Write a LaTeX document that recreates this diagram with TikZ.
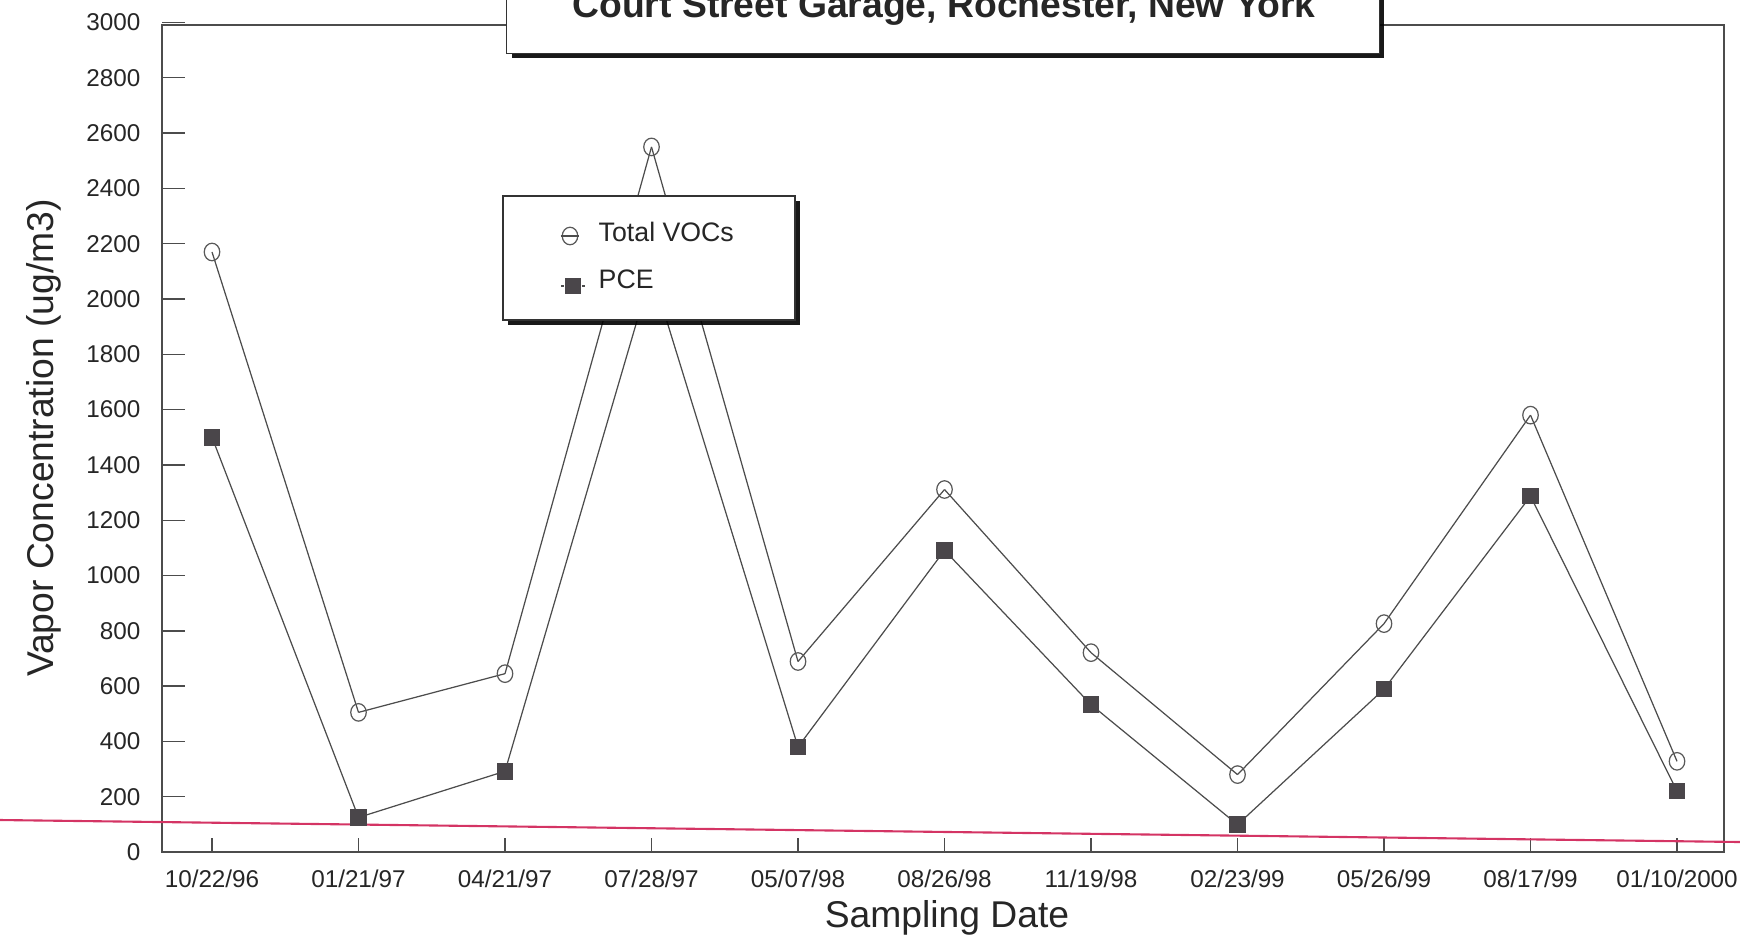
\documentclass[tikz,border=0pt]{standalone}
\usepackage{fontspec}
\setmainfont{Liberation Sans}
\usepackage{tikz}
\usetikzlibrary{positioning}
\usetikzlibrary{shapes.geometric}
\usetikzlibrary{shadows}
\definecolor{pcegray}{RGB}{74,70,74}
\definecolor{limitred}{RGB}{212,52,100}
\tikzstyle{voc} = [ellipse, draw=black!65, line width=0.35pt, inner sep=0pt,
    minimum width=0.155cm, minimum height=0.175cm]
\tikzstyle{pce} = [rectangle, fill=pcegray, inner sep=0pt, minimum size=0.165cm]
\tikzstyle{line} = [draw, black!70, line width=0.35pt]
\tikzstyle{frame} = [draw, black!70, line width=0.4pt]
\tikzstyle{panel} = [rectangle, draw=black!80, fill=white, line width=0.4pt,
    drop shadow={shadow xshift=0.05cm, shadow yshift=-0.05cm, fill=black, opacity=0.9}]
\tikzstyle{tick} = [font=\fontsize{6.9}{8}\selectfont, text=black!85, inner sep=0pt]
\tikzstyle{legendtext} = [font=\fontsize{7.6}{9}\selectfont, text=black!85, anchor=base west, inner sep=0pt]
\tikzstyle{axistitle} = [font=\fontsize{10.6}{12}\selectfont, text=black!85, anchor=base]

\begin{document}
\begin{tikzpicture}[x=0.01cm, y=-0.01cm]
    \useasboundingbox (0,0) rectangle (1740,939);
    % Frame and axes
    \path [frame] (162,25) rectangle (1724,852);
    \foreach \t in {0,200,...,3000} {
        \path [frame] (162,{852-0.2765*\t}) -- ++(23,0);
        \node [tick, anchor=east] at (141,{852-0.2765*\t}) {\t};
    }
    \foreach \d [count=\i from 0] in {{10/22/96},{01/21/97},{04/21/97},{07/28/97},{05/07/98},{08/26/98},{11/19/98},{02/23/99},{05/26/99},{08/17/99},{01/10/2000}} {
        \path [frame] ({212+146.5*\i},852) -- ++(0,-14);
        \node [tick] (d\i) at ({212+146.5*\i},879) {\d};
    }
    % Red line
    \coordinate (redL) at (0,820);
    \coordinate (redR) at (1740,842);
    \draw [limitred, line width=0.6pt] (redL) -- (redR);
    % Place data points
    \foreach \v [count=\i from 0] in {2170,505,645,2550,689,1311,721,280,826,1580,328}
        \coordinate (v\i) at ({212+146.5*\i},{852-0.2765*\v});
    \foreach \v [count=\i from 0] in {1500,125,292,2100,380,1091,533,99,589,1287,220}
        \coordinate (p\i) at ({212+146.5*\i},{852-0.2765*\v});
    % Draw edges
    \foreach \i [count=\j from 1] in {0,...,9} {
        \path [line] (v\i) -- (v\j);
        \path [line] (p\i) -- (p\j);
    }
    \foreach \i in {0,...,10} {
        \node [voc] at (v\i) {};
        \node [pce] at (p\i) {};
    }
    % Legend
    \node [panel, minimum width=2.92cm, minimum height=1.24cm] (legend) at (649,258) {};
    \node [voc] (lvoc) at (570,236) {};
    \path [line] ([xshift=-0.01cm]lvoc.west) -- ([xshift=0.01cm]lvoc.east);
    \node [legendtext] (lvoctext) at (598,241) {Total VOCs};
    \node [pce] (lpce) at (573,286) {};
    \path [line] ([xshift=-0.03cm]lpce.west) -- (lpce.west);
    \path [line] (lpce.east) -- ([xshift=0.03cm]lpce.east);
    \node [legendtext] (lpcetext) at (598,288) {PCE};
    % Title
    \node [panel, anchor=south, minimum width=8.72cm, minimum height=1.2cm] (titlebox) at (943,54) {};
    \node [axistitle, font=\bfseries\fontsize{10.6}{12}\selectfont] (title) at (944,17) {Court Street Garage, Rochester, New York};
    % Axis titles
    \node [axistitle] (xtitle) at (947,927) {Sampling Date};
    \node [axistitle, rotate=90] (ytitle) at (53,438) {Vapor Concentration (ug/m3)};
\end{tikzpicture}
\end{document}
